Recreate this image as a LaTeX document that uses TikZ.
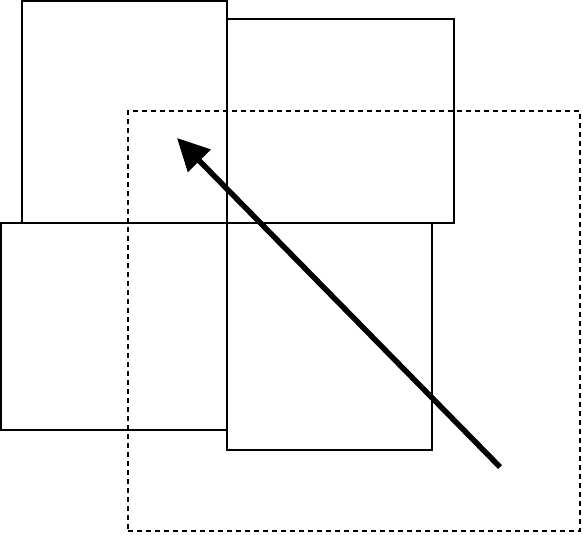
\documentclass[tikz,border=0pt]{standalone}
\usepackage{tikz}
\usetikzlibrary{arrows.meta,positioning}

\begin{document}
\begin{tikzpicture}[
    x=0.2mm, y=-0.2mm,
    box/.style={rectangle, draw, line width=0.4mm, inner sep=0pt, outer sep=0pt},
    region/.style={rectangle, draw, dashed, dash pattern=on 1mm off 0.8mm, line width=0.4mm, inner sep=0pt, outer sep=0pt},
]
    \useasboundingbox (0,0) rectangle (583,534);

    % Four boxes
    \node[box, minimum width=41mm, minimum height=44.4mm] (topleft) at (124.5,112) {};
    \node[box, minimum width=45.4mm, minimum height=40.8mm] (topright) at (340.5,121) {};
    \node[box, minimum width=45.2mm, minimum height=41.4mm] (bottomleft) at (114,326.5) {};
    \node[box, minimum width=41mm, minimum height=45.4mm] (bottomright) at (329.5,336.5) {};

    % Dashed region
    \node[region, minimum width=90.4mm, minimum height=84mm] (window) at (354,321) {};

    % Arrow
    \coordinate (start) at (500,467);
    \coordinate (finish) at (177,138);
    \draw[-{Triangle[length=6.4mm, width=6.2mm]}, line width=1.1mm] (start) -- (finish);
\end{tikzpicture}
\end{document}
